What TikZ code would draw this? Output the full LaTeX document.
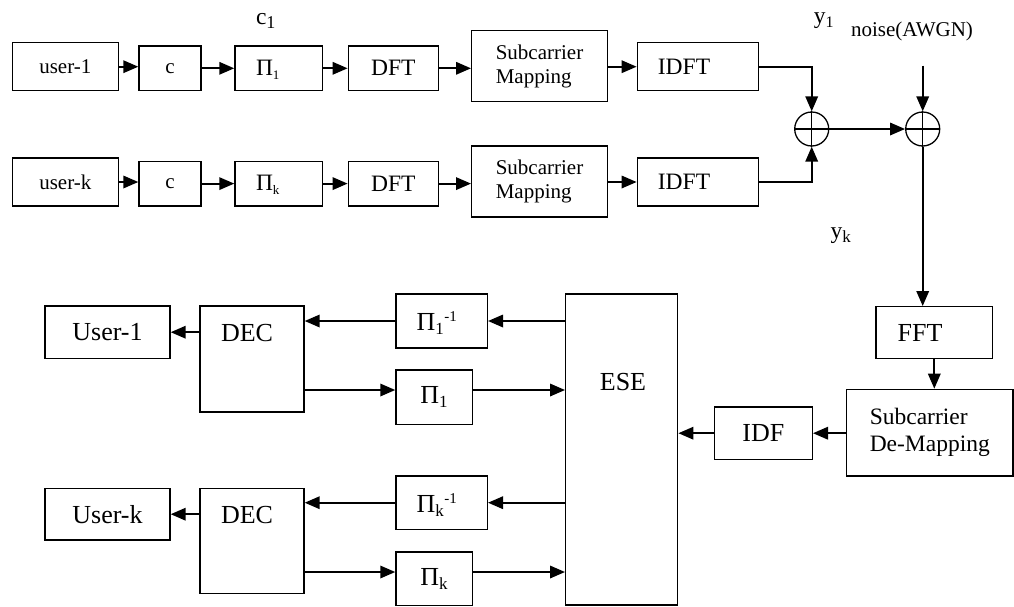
\documentclass[tikz,border=0pt]{standalone}
\usepackage{fontspec}
\setmainfont{Liberation Serif}
\usetikzlibrary{arrows.meta}
\newcommand{\sz}[1]{\fontsize{#1pt}{#1pt}\selectfont}
\newcommand{\lo}[2]{\textsubscript{\sz{#1}#2}}
\newcommand{\hi}[2]{\textsuperscript{\sz{#1}#2}}
\begin{document}
\begin{tikzpicture}[x=1pt,y=-1pt,
  box/.style={draw, line width=1.4pt, inner sep=0pt},
  arr/.style={line width=1.8pt, -{Triangle[length=15pt,width=12.5pt]}},
  fs/.style={font=\fontsize{21pt}{24pt}\selectfont},
  fm/.style={font=\fontsize{23.5pt}{27pt}\selectfont},
  fb/.style={font=\fontsize{26pt}{30pt}\selectfont},
  sumc/.style={circle, draw, line width=1.3pt, minimum size=34pt, inner sep=0pt}]
\useasboundingbox (0,0) rectangle (1014,606);
% ---- transmitter row 1
\node[box, fs, minimum width=106pt, minimum height=48pt] (u1) at (65.3,66.7) {user-1};
\node[box, fs, minimum width=62pt, minimum height=44.7pt] (c1) at (170,68.3) {c};
\node[box, minimum width=87.7pt, minimum height=44.7pt] (p1) at (278.8,68.3) {};
\node[fm] (p1t) at (268,70) {Π\lo{13}{1}};
\node[box, fm, minimum width=90pt, minimum height=44.7pt] (dft1) at (393.3,68.3) {DFT};
\node[box, fs, align=left, minimum width=135.6pt, minimum height=71pt] (sm1) at (539.5,66.2) {Subcarrier\\Mapping};
\node[box, minimum width=121pt, minimum height=48pt] (idft1) at (697.8,66.7) {};
\node[fm] (idft1t) at (684,67) {IDFT};
% ---- transmitter row 2
\node[box, fs, minimum width=106pt, minimum height=48pt] (uk) at (65.3,182) {user-k};
\node[box, fs, minimum width=62pt, minimum height=44.7pt] (c2) at (170,183.6) {c};
\node[box, minimum width=87.7pt, minimum height=44.7pt] (pk) at (278.8,183.6) {};
\node[fm] (pkt) at (268,185) {Π\lo{13}{k}};
\node[box, fm, minimum width=90pt, minimum height=44.7pt] (dft2) at (393.3,183.6) {DFT};
\node[box, fs, align=left, minimum width=135.6pt, minimum height=71pt] (sm2) at (539.5,181.5) {Subcarrier\\Mapping};
\node[box, minimum width=121pt, minimum height=48pt] (idft2) at (697.8,182) {};
\node[fm] (idft2t) at (684,182) {IDFT};
% ---- adders
\node[sumc] (s1) at (811.7,129) {};
\node[sumc] (s2) at (922.7,129) {};
\draw[line width=1.3pt] (s1.north) -- (s1.south) (s1.west) -- (s1.east);
\draw[line width=1.3pt] (s2.north) -- (s2.south) (s2.west) -- (s2.east);
\coordinate (n0) at (922.7,65.7);
% ---- labels
\node[fm] (lc1) at (266,21) {c\lo{18}{1}};
\node[fm] (ly1) at (824,21) {y\lo{16}{1}};
\node[fs] (lnoise) at (912,31) {noise(AWGN)};
\node[fm] (lyk) at (841,236) {y\lo{17}{k}};
% ---- receiver
\node[box, minimum width=116.7pt, minimum height=52pt] (fft) at (934.3,332.7) {};
\node[fb] (fftt) at (920,333) {FFT};
\node[box, fm, align=left, minimum width=166.3pt, minimum height=86.7pt] (dm) at (929.8,432.7) {Subcarrier\\De-Mapping};
\node[box, fb, minimum width=98pt, minimum height=52.3pt] (idf) at (763.3,433.2) {IDF};
\node[box, minimum width=112pt, minimum height=311pt] (ese) at (621.7,449.5) {};
\node[fb] (eset) at (623,382) {ESE};
\node[box, fb, minimum width=125pt, minimum height=52.3pt] (ub1) at (107.5,332.2) {User-1};
\node[box, minimum width=104pt, minimum height=106pt] (dec1) at (252,359) {};
\node[fb] (dec1t) at (247,333) {DEC};
\node[box, minimum width=91.3pt, minimum height=54pt] (pi1i) at (441.7,321) {};
\node[fb] (pi1it) at (437,323) {Π\lo{17}{1}\hi{15}{-1}};
\node[box, fb, minimum width=76.7pt, minimum height=54.3pt] (pi1) at (434.3,397.2) {Π\lo{17}{1}};
\node[box, fb, minimum width=125pt, minimum height=51.7pt] (ubk) at (107.5,514.2) {User-k};
\node[box, minimum width=104pt, minimum height=105pt] (dec2) at (252,540.8) {};
\node[fb] (dec2t) at (247,515) {DEC};
\node[box, minimum width=91.3pt, minimum height=53.3pt] (piki) at (441.7,502.7) {};
\node[fb] (pikit) at (437,505) {Π\lo{17}{k}\hi{15}{-1}};
\node[box, fb, minimum width=76.7pt, minimum height=53.3pt] (pik) at (434.3,578.7) {Π\lo{17}{k}};
\coordinate (l1) at (0,390);
\coordinate (l2) at (0,572);
% ---- connectors, row 1
\draw[arr] (u1.east) -- (u1.east -| c1.west);
\draw[arr] (c1.east) -- (p1.west);
\draw[arr] (p1.east) -- (dft1.west);
\draw[arr] (dft1.east) -- (dft1.east -| sm1.west);
\draw[arr] (sm1.east |- idft1) -- (idft1.west);
\draw[arr] (idft1.east) -| (s1.north);
% row 2
\draw[arr] (uk.east) -- (uk.east -| c2.west);
\draw[arr] (c2.east) -- (pk.west);
\draw[arr] (pk.east) -- (dft2.west);
\draw[arr] (dft2.east) -- (dft2.east -| sm2.west);
\draw[arr] (sm2.east |- idft2) -- (idft2.west);
\draw[arr] (idft2.east) -| (s1.south);
% adders
\draw[arr] (s1.east) -- (s2.west);
\draw[arr] (n0) -- (s2.north);
\draw[arr] (s2.south) -- (s2.south |- fft.north);
% receiver
\draw[arr] (fft.south) -- (fft.south |- dm.north);
\draw[arr] (dm.west |- idf) -- (idf.east);
\draw[arr] (idf.west) -- (idf.west -| ese.east);
\draw[arr] (ese.west |- pi1i) -- (pi1i.east);
\draw[arr] (pi1i.west) -- (pi1i.west -| dec1.east);
\draw[arr] (dec1.west |- ub1) -- (ub1.east);
\draw[arr] (dec1.east |- l1) -- (pi1.west |- l1);
\draw[arr] (pi1.east |- l1) -- (ese.west |- l1);
\draw[arr] (ese.west |- piki) -- (piki.east);
\draw[arr] (piki.west) -- (piki.west -| dec2.east);
\draw[arr] (dec2.west |- ubk) -- (ubk.east);
\draw[arr] (dec2.east |- l2) -- (pik.west |- l2);
\draw[arr] (pik.east |- l2) -- (ese.west |- l2);
\end{tikzpicture}
\end{document}
